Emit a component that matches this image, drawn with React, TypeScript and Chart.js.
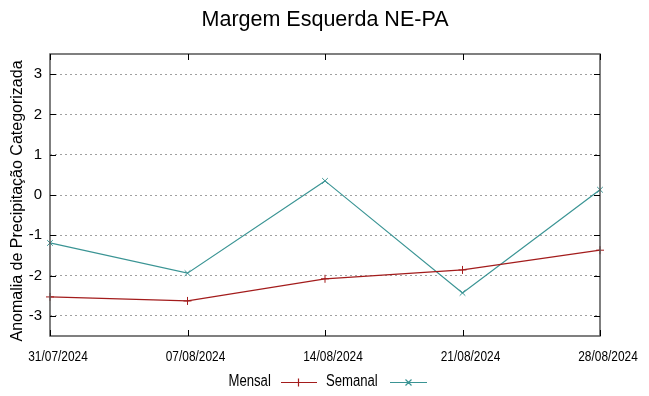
import React, { useEffect, useRef } from "react";
import { Chart, registerables } from "chart.js";

Chart.register(...registerables);

const dates = ["31/07/2024", "07/08/2024", "14/08/2024", "21/08/2024", "28/08/2024"];
const mensal = [-2.53, -2.63, -2.08, -1.86, -1.37];
const semanal = [-1.19, -1.94, 0.35, -2.43, 0.13];
const yTicks = [-3, -2, -1, 0, 1, 2, 3];
const titleText = "Margem Esquerda NE-PA";
const yTitle = "Anomalia de Precipitação Categorizada";
const mensalColor = "#a31c1c";
const semanalColor = "#3a9494";
const regular = "'Liberation Sans', Arial, sans-serif";
const NARROW = 0.82;

function narrowText(ctx: any, text: string, x: number, y: number, align: "left" | "right" | "center") {
  ctx.save();
  ctx.translate(x, y);
  ctx.scale(NARROW, 1);
  ctx.textAlign = align;
  ctx.fillText(text, 0, 0);
  ctx.restore();
}

const decor = {
  id: "decor",
  afterDraw(chart: any) {
    const ctx = chart.ctx;
    const a = chart.chartArea;
    const xs = chart.scales.x;
    const ys = chart.scales.y;
    ctx.save();
    // border
    ctx.strokeStyle = "#555";
    ctx.lineWidth = 1.5;
    ctx.strokeRect(a.left, a.top, a.right - a.left, a.bottom - a.top);
    // ticks
    ctx.strokeStyle = "#000";
    ctx.lineWidth = 1;
    yTicks.forEach((v) => {
      const y = Math.round(ys.getPixelForValue(v)) + 0.5;
      ctx.beginPath();
      ctx.moveTo(a.left, y);
      ctx.lineTo(a.left + 6, y);
      ctx.moveTo(a.right, y);
      ctx.lineTo(a.right - 6, y);
      ctx.stroke();
    });
    ctx.fillStyle = "#000";
    ctx.textBaseline = "middle";
    ctx.font = "14.5px " + regular;
    dates.forEach((d, i) => {
      const px = xs.getPixelForValue(i);
      const x = Math.round(px) + 0.5;
      ctx.beginPath();
      ctx.moveTo(x, a.bottom);
      ctx.lineTo(x, a.bottom - 6);
      ctx.moveTo(x, a.top);
      ctx.lineTo(x, a.top + 6);
      ctx.stroke();
      narrowText(ctx, d, px + 8, 356.5, "center");
    });
    // title
    ctx.font = "21.5px " + regular;
    ctx.textAlign = "center";
    ctx.fillText(titleText, 325, 20);
    // y title
    ctx.save();
    ctx.translate(18, 201);
    ctx.rotate(-Math.PI / 2);
    ctx.font = "16px " + regular;
    ctx.fillText(yTitle, 0, 0);
    ctx.restore();
    // legend
    const ly = 382;
    ctx.font = "16px " + regular;
    narrowText(ctx, "Mensal", 228.5, ly, "left");
    narrowText(ctx, "Semanal", 326, ly, "left");
    ctx.lineWidth = 1.2;
    ctx.strokeStyle = mensalColor;
    ctx.beginPath();
    ctx.moveTo(281, ly + 0.5);
    ctx.lineTo(317, ly + 0.5);
    ctx.moveTo(298.5, ly - 3.5);
    ctx.lineTo(298.5, ly + 4.5);
    ctx.stroke();
    ctx.strokeStyle = semanalColor;
    ctx.beginPath();
    ctx.moveTo(390, ly + 0.5);
    ctx.lineTo(427, ly + 0.5);
    ctx.moveTo(405.5, ly - 2.5);
    ctx.lineTo(411.5, ly + 3.5);
    ctx.moveTo(411.5, ly - 2.5);
    ctx.lineTo(405.5, ly + 3.5);
    ctx.stroke();
    ctx.restore();
  },
};

export default function App() {
  const ref = useRef<HTMLCanvasElement>(null);
  useEffect(() => {
    const chart = new Chart(ref.current!, {
      type: "line",
      data: {
        labels: dates,
        datasets: [
          {
            label: "Mensal",
            data: mensal,
            borderColor: mensalColor,
            backgroundColor: mensalColor,
            borderWidth: 1.2,
            pointStyle: "cross",
            pointRadius: 4,
            pointBorderWidth: 1,
            tension: 0,
          },
          {
            label: "Semanal",
            data: semanal,
            borderColor: semanalColor,
            backgroundColor: semanalColor,
            borderWidth: 1.2,
            pointStyle: "crossRot",
            pointRadius: 4,
            pointBorderWidth: 1,
            tension: 0,
          },
        ],
      },
      options: {
        responsive: false,
        animation: false,
        layout: { padding: { top: 54, right: 49, left: 0, bottom: 0 } },
        plugins: { legend: { display: false }, title: { display: false }, tooltip: { enabled: false } },
        scales: {
          x: {
            type: "category",
            offset: false,
            grid: { display: false, drawTicks: false },
            border: { display: false },
            ticks: { display: false },
            afterFit: (s: any) => { s.height = 60; },
          },
          y: {
            min: -3.5,
            max: 3.5,
            afterBuildTicks: (s: any) => { s.ticks = yTicks.map((v) => ({ value: v })); },
            grid: { color: "#a0a0a0", lineWidth: 1, drawTicks: false },
            border: { display: false, dash: [2, 3] },
            ticks: { font: { family: regular, size: 15 }, color: "#000", padding: 8 },
            afterFit: (s: any) => { s.width = 50; },
          },
        },
      },
      plugins: [decor],
    });
    return () => chart.destroy();
  }, []);
  return (
    <div style={{ position: "absolute", left: 0, top: 0, width: 649, height: 396, background: "#fff" }}>
      <canvas ref={ref} width={649} height={396} style={{ width: 649, height: 396 }} />
    </div>
  );
}
